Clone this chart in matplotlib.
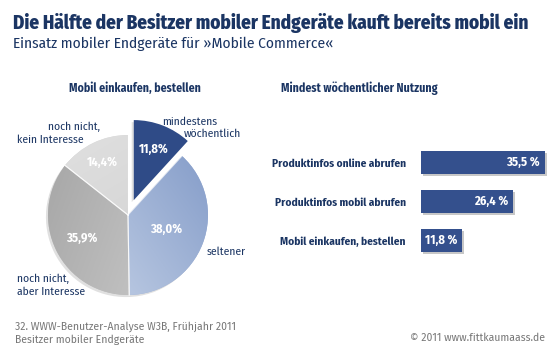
import matplotlib
matplotlib.use("Agg")
import matplotlib.pyplot as plt
import matplotlib.patheffects as pe
from matplotlib.colors import to_rgb
import numpy as np

# ---------------- data ----------------
title = "Die Hälfte der Besitzer mobiler Endgeräte kauft bereits mobil ein"
subtitle = "Einsatz mobiler Endgeräte für »Mobile Commerce«"
pie_title = "Mobil einkaufen, bestellen"
pie_labels = ["mindestens\nwöchentlich", "seltener", "noch nicht,\naber Interesse", "noch nicht,\nkein Interesse"]
pie_values = [11.8, 38.0, 35.9, 14.4]
bar_title = "Mindest wöchentlicher Nutzung"
bar_categories = ["Produktinfos online abrufen", "Produktinfos mobil abrufen", "Mobil einkaufen, bestellen"]
bar_values = [35.5, 26.4, 11.8]
footer_left = ["32. WWW-Benutzer-Analyse W3B, Frühjahr 2011", "Besitzer mobiler Endgeräte"]
footer_right = "© 2011 www.fittkaumaass.de"

# ---------------- style ----------------
COND = ["Fira Sans Condensed", "DejaVu Sans"]
REG = ["Fira Sans", "DejaVu Sans"]
NAVY = "#1b3563"
DARK = "#2f4b87"
BAR = "#34508d"
GREY_TXT = "#777777"
W, H = 560, 350

fig = plt.figure(figsize=(W / 100, H / 100), dpi=100)
fig.patch.set_facecolor("white")


def fx(x):
    return x / W


def fy(y):
    return 1 - y / H


# titles
fig.text(fx(13), fy(29), title, family=COND, fontweight=800, fontsize=13.7,
         color=NAVY, ha="left", va="baseline")
fig.text(fx(13), fy(48), subtitle, family=COND, fontsize=11.1,
         color=NAVY, ha="left", va="baseline")

# ---------------- pie ----------------
cx, cy, R = 128, 215, 75
half = 100
axp = fig.add_axes([fx(cx - half), fy(cy + half), 2 * half / W, 2 * half / H])
lim = half / R
axp.set_xlim(-lim, lim)
axp.set_ylim(-lim, lim)
axp.set_aspect("auto")
axp.axis("off")

explode = [0.2, 0, 0, 0]
base_colors = [DARK, "#9db1d6", "#bdbdbd", "#d9d9d9"]
wedges, _ = axp.pie(pie_values, startangle=90, counterclock=False, explode=explode,
                    colors=base_colors, radius=1,
                    wedgeprops=dict(linewidth=0))
for w in wedges:
    w.set_path_effects([pe.SimplePatchShadow(offset=(-1.5, -1.5), shadow_rgbFace="#000000", alpha=0.12),
                        pe.Normal()])

# gradients (start colour, end colour, direction angle in degrees)
grads = [None,
         ("#7892c3", "#d6e0ef", 215),
         ("#a0a0a0", "#d4d4d4", -20),
         ("#e2e2e2", "#cdcdcd", -60)]
n = 200
xs = np.linspace(-1.25, 1.25, n)
XX, YY = np.meshgrid(xs, xs)
for w, g in zip(wedges, grads):
    if g is None:
        continue
    c0, c1, ang = g
    d = np.array([np.cos(np.radians(ang)), np.sin(np.radians(ang))])
    t = XX * d[0] + YY * d[1]
    t = (t - t.min()) / (t.max() - t.min())
    c0, c1 = np.array(to_rgb(c0)), np.array(to_rgb(c1))
    img = c0[None, None, :] * (1 - t[..., None]) + c1[None, None, :] * t[..., None]
    im = axp.imshow(img, extent=(-1.25, 1.25, -1.25, 1.25), origin="lower",
                    interpolation="bilinear", zorder=w.get_zorder() + 0.1)
    im.set_clip_path(w)

# thin white separators between the non-exploded slices
for w in wedges[1:]:
    for th in (w.theta1, w.theta2):
        a = np.radians(th)
        axp.plot([0, np.cos(a)], [0, np.sin(a)], color="white", lw=0.8, alpha=0.7, zorder=5)

# percentage labels inside slices
pct_r = [0.68, 0.51, 0.65, 0.73]
for w, v, r, ex in zip(wedges, pie_values, pct_r, explode):
    mid = np.radians((w.theta1 + w.theta2) / 2)
    rr = r + ex
    axp.text(rr * np.cos(mid), rr * np.sin(mid), f"{v:.1f}%".replace(".", ","),
             family=COND, fontweight="bold", fontsize=9, color="white",
             ha="center", va="center", zorder=10)

# outside labels (lines placed individually, as in reference)
lab_kw = dict(family=COND, fontsize=8.3, color=NAVY, va="center")
l0 = pie_labels[0].split("\n")
fig.text(fx(162), fy(122), l0[0], ha="left", **lab_kw)
fig.text(fx(184), fy(134), l0[1], ha="left", **lab_kw)
fig.text(fx(207), fy(252), pie_labels[1], ha="left", **lab_kw)
l2 = pie_labels[2].split("\n")
fig.text(fx(17), fy(279), l2[0], ha="left", **lab_kw)
fig.text(fx(17), fy(292), l2[1], ha="left", **lab_kw)
l3 = pie_labels[3].split("\n")
fig.text(fx(100), fy(127), l3[0], ha="right", **lab_kw)
fig.text(fx(17), fy(140), l3[1], ha="left", **lab_kw)

fig.text(fx(135), fy(88), pie_title, family=COND, fontweight="bold", fontsize=8.5,
         color=NAVY, ha="center", va="center")

# ---------------- bars ----------------
bx0, bw = 421, 130
by0, bh = 143, 117
axb = fig.add_axes([fx(bx0), fy(by0 + bh), bw / W, bh / H])
scale = 124 / 35.5  # px per percent
axb.set_xlim(0, bw / scale)
ypos = np.arange(len(bar_values))
axb.set_ylim(len(bar_values) - 0.5, -0.5)
bars = axb.barh(ypos, bar_values, height=0.57, color=BAR, linewidth=0)
for b in bars:
    b.set_path_effects([pe.SimplePatchShadow(offset=(1.5, -1.5), shadow_rgbFace="#000000", alpha=0.22),
                        pe.Normal()])
for yv, v in zip(ypos, bar_values):
    axb.text(v - 5 / scale, yv, f"{v:.1f} %".replace(".", ","), family=COND,
             fontweight="bold", fontsize=9, color="white", ha="right", va="center")
axb.set_yticks(ypos)
axb.set_yticklabels(bar_categories, family=COND, fontweight="bold", fontsize=8.1, color=NAVY)
axb.tick_params(axis="y", length=0, pad=10.8)
axb.set_xticks([])
for s in axb.spines.values():
    s.set_visible(False)
axb.patch.set_visible(False)

fig.text(fx(281), fy(88), bar_title, family=COND, fontweight="bold", fontsize=8.5,
         color=NAVY, ha="left", va="center")

# ---------------- footer ----------------
fig.text(fx(15), fy(327), footer_left[0], family=REG, fontsize=7.5, color=GREY_TXT,
         ha="left", va="center")
fig.text(fx(15), fy(340), footer_left[1], family=REG, fontsize=7.5, color=GREY_TXT,
         ha="left", va="center")
fig.text(fx(545), fy(338), footer_right, family=REG, fontsize=7.5, color=GREY_TXT,
         ha="right", va="center")

fig.savefig("out.png", dpi=100)
